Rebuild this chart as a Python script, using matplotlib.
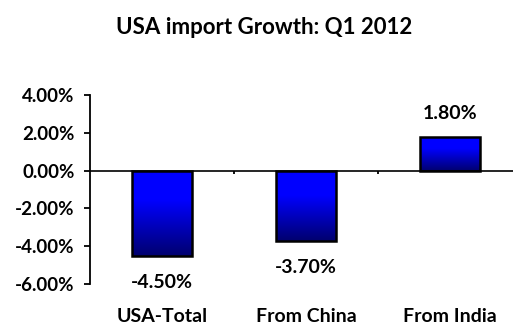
import numpy as np
import matplotlib
matplotlib.use("Agg")
import matplotlib.pyplot as plt
from matplotlib.colors import LinearSegmentedColormap

categories = ["USA-Total", "From China", "From India"]
values = [-4.50, -3.70, 1.80]
yticks = [-6, -4, -2, 0, 2, 4]
ytick_labels = ["-6.00%", "-4.00%", "-2.00%", "0.00%", "2.00%", "4.00%"]
title = "USA import Growth: Q1 2012"

plt.rcParams['font.family'] = ['Lato', 'DejaVu Sans']
plt.rcParams['font.weight'] = 'bold'

W, H = 513, 325
fig = plt.figure(figsize=(W / 100, H / 100), dpi=100)
fig.patch.set_facecolor('white')

left_px, right_px, top_px, bot_px = 90, 513, 95, 284
ax = fig.add_axes([left_px / W, (H - bot_px) / H, (right_px - left_px) / W, (bot_px - top_px) / H])
cat_w = 144.0
ax.set_xlim(-0.5, -0.5 + (right_px - left_px) / cat_w)
ax.set_ylim(-6, 4)

for s in ['top', 'right', 'bottom']:
    ax.spines[s].set_visible(False)
ax.spines['left'].set_linewidth(1.3)
ax.set_yticks(yticks)
ax.set_yticklabels(ytick_labels, fontsize=13.5, fontweight='bold')
ax.tick_params(axis='y', length=4, width=1.3, pad=7)
ax.set_xticks([])

ax.axhline(0, color='black', lw=1.2, zorder=3)
ax.vlines([0.5, 1.5], -0.16, 0, color='black', lw=1.3, zorder=3)

cmap = LinearSegmentedColormap.from_list('g', [(0, '#00006e'), (0.65, '#0000ff'), (1, '#0000ff')])
grad = np.linspace(0, 1, 256).reshape(-1, 1)
x = np.arange(len(categories))
bars = ax.bar(x, values, width=0.41, facecolor='none', edgecolor='black', linewidth=1.8, zorder=4)
for b, v in zip(bars, values):
    x0 = b.get_x()
    x1 = x0 + b.get_width()
    y0, y1 = min(0, v), max(0, v)
    im = ax.imshow(grad, cmap=cmap, aspect='auto', extent=[x0, x1, y0, y1], origin='lower', zorder=2)
    bb = plt.Rectangle((x0, y0), x1 - x0, y1 - y0, transform=ax.transData)
    im.set_clip_path(bb)
    off = 13 if v > 0 else -23.5
    ax.annotate(f"{v:.2f}%", (b.get_x() + b.get_width() / 2, v), xytext=(0, off),
                textcoords='offset points', ha='center', va='baseline', fontsize=14,
                fontweight='bold', annotation_clip=False)

for xi, c in zip(x, categories):
    ax.text(xi, -(321 - 170) / 18.9, c, ha='center', va='baseline', fontsize=14,
            fontweight='bold', clip_on=False)

fig.text(264 / W, 1 - 34 / H, title, ha='center', va='baseline', fontsize=16, fontweight='bold')

fig.savefig('out.png', dpi=100, facecolor='white')
